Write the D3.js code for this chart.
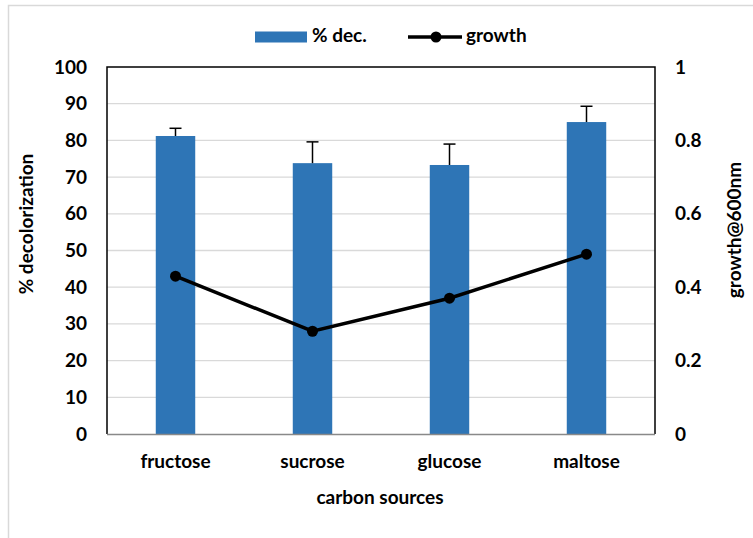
<!DOCTYPE html>
<html><head><meta charset="utf-8">
<script src="https://cdn.jsdelivr.net/npm/d3@7"></script>
<style>
html,body{margin:0;padding:0;background:#fff;}
text{font-family:Lato,"Open Sans",sans-serif;font-weight:bold;fill:#000;}
</style></head>
<body><svg id="c" width="753" height="538"></svg>
<script>
const categories = ["fructose","sucrose","glucose","maltose"];
const decolorization = [81.2, 73.8, 73.3, 85.0];
const decError = [2.1, 5.8, 5.7, 4.3];
const growth = [0.43, 0.28, 0.37, 0.49];
const leftTicks = [0,10,20,30,40,50,60,70,80,90,100];
const rightTicks = [0,0.2,0.4,0.6,0.8,1];

const svg = d3.select("#c");
const W=753,H=538;
const m={l:107,r:655,t:67,b:434};

// outer chart border
svg.append("path").attr("d",`M8.5,${H} V5.5 H${W}`).attr("fill","none").attr("stroke","#d9d9d9").attr("stroke-width",1.5);

const x=d3.scaleBand().domain(categories).range([m.l,m.r]).paddingInner(0.712).paddingOuter(0.356);
const y=d3.scaleLinear().domain([0,100]).range([m.b,m.t]);
const y2=d3.scaleLinear().domain([0,1]).range([m.b,m.t]);

// gridlines
svg.append("g").selectAll("line").data(leftTicks.filter(d=>d>0&&d<100)).join("line")
 .attr("x1",m.l).attr("x2",m.r).attr("y1",d=>y(d)).attr("y2",d=>y(d))
 .attr("stroke","#d9d9d9").attr("stroke-width",1.3);

// bars
svg.append("g").selectAll("rect").data(categories).join("rect")
 .attr("x",d=>x(d)).attr("width",x.bandwidth())
 .attr("y",(d,i)=>y(decolorization[i])).attr("height",(d,i)=>m.b-y(decolorization[i]))
 .attr("fill","#2e75b6");

// error bars
const eg=svg.append("g").attr("stroke","#000").attr("stroke-width",1.5);
categories.forEach((c,i)=>{
  const cx=x(c)+x.bandwidth()/2;
  const yt=y(decolorization[i]+decError[i]);
  eg.append("line").attr("x1",cx).attr("x2",cx).attr("y1",y(decolorization[i])).attr("y2",yt);
  eg.append("line").attr("x1",cx-6).attr("x2",cx+6).attr("y1",yt).attr("y2",yt);
});

// plot border
svg.append("path").attr("d",`M${m.l},${m.b} V${m.t} H${m.r} V${m.b}`).attr("fill","none").attr("stroke","#000").attr("stroke-width",1.5);
svg.append("line").attr("x1",m.l).attr("x2",m.r).attr("y1",m.b+0.5).attr("y2",m.b+0.5).attr("stroke","#898989").attr("stroke-width",1.5);

// growth line
const line=d3.line().x((d,i)=>x(categories[i])+x.bandwidth()/2).y(d=>y2(d));
svg.append("path").datum(growth).attr("d",line).attr("fill","none").attr("stroke","#000").attr("stroke-width",3.5);
svg.append("g").selectAll("circle").data(growth).join("circle")
 .attr("cx",(d,i)=>x(categories[i])+x.bandwidth()/2).attr("cy",d=>y2(d)).attr("r",5.5).attr("fill","#000");

// axes
const fs="19px";
const la=svg.append("g").attr("transform",`translate(${m.l},0)`)
 .call(d3.axisLeft(y).tickValues(leftTicks).tickSize(0).tickPadding(20));
la.select(".domain").remove();
la.selectAll("text").style("font-size",fs).style("font-family","Lato").attr("font-weight","bold");

const ra=svg.append("g").attr("transform",`translate(${m.r},0)`)
 .call(d3.axisRight(y2).tickValues(rightTicks).tickSize(0).tickPadding(20).tickFormat(d3.format("~g")));
ra.select(".domain").remove();
ra.selectAll("text").style("font-size",fs).style("font-family","Lato").attr("font-weight","bold");

const ba=svg.append("g").attr("transform",`translate(0,${m.b})`)
 .call(d3.axisBottom(x).tickSize(0).tickPadding(21));
ba.select(".domain").remove();
ba.selectAll("text").style("font-size",fs).style("font-family","Lato").attr("font-weight","bold");

// titles
svg.append("text").attr("x",380).attr("y",499).attr("text-anchor","middle").attr("dominant-baseline","middle").style("font-size",fs).text("carbon sources");
svg.append("text").attr("transform","translate(28,224) rotate(-90)").attr("text-anchor","middle").attr("dominant-baseline","middle").style("font-size",fs).text("% decolorization");
svg.append("text").attr("transform","translate(736,230) rotate(-90)").attr("text-anchor","middle").attr("dominant-baseline","middle").style("font-size",fs).text("growth@600nm");

// legend
const lg=svg.append("g");
lg.append("rect").attr("x",255).attr("y",31.5).attr("width",52).attr("height",11).attr("fill","#2e75b6");
lg.append("text").attr("x",312).attr("y",37).attr("dominant-baseline","middle").style("font-size",fs).text("% dec.");
lg.append("line").attr("x1",408).attr("x2",462).attr("y1",37).attr("y2",37).attr("stroke","#000").attr("stroke-width",3.5);
lg.append("circle").attr("cx",436).attr("cy",37).attr("r",5.5).attr("fill","#000");
lg.append("text").attr("x",466).attr("y",37).attr("dominant-baseline","middle").style("font-size",fs).text("growth");
</script></body></html>
